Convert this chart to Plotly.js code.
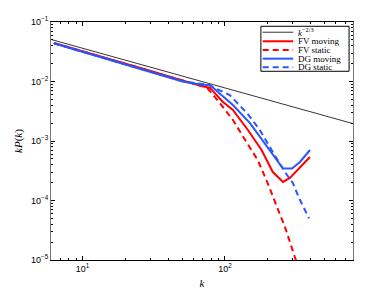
<!DOCTYPE html>
<html>
<head>
<meta charset="utf-8">
<script src="https://cdn.plot.ly/plotly-3.0.1.min.js"></script>
<style>html,body{margin:0;padding:0;background:#fff;}#chart{width:390px;height:293px;}</style>
</head>
<body>
<div id="chart"></div>
<script>
// Reference line k^(-2/3) (two end points of a straight line on log-log axes)
var kRef = [6, 800];
var pRef = [0.0509, 0.00195];

// FV moving
var kFVmoving = [6.28, 8.0, 10.0, 12.6, 15.7, 18.8, 22.0, 25.1, 31.4, 37.7, 44.0, 50.3, 56.5, 62.8, 69.1, 78.5, 96.6, 113.8, 145, 181, 217, 256, 286, 396];
var pFVmoving = [0.0445, 0.0378, 0.0324, 0.0277, 0.0237, 0.0210, 0.0188, 0.0171, 0.0146, 0.0128, 0.0114, 0.0104, 0.0096, 0.0089, 0.0084, 0.0078, 0.00457, 0.00332, 0.00153, 0.000706, 0.000301, 0.000205, 0.000239, 0.000538];

// FV static
var kFVstatic = [6.28, 8.0, 10.0, 12.6, 15.7, 18.8, 22.0, 25.1, 31.4, 37.7, 44.0, 50.3, 56.5, 62.8, 69.1, 74.7, 92, 114, 143, 170, 198, 233, 264, 310, 340];
var pFVstatic = [0.0445, 0.0376, 0.0322, 0.0275, 0.0236, 0.0208, 0.0186, 0.0170, 0.0145, 0.0127, 0.0113, 0.0103, 0.0095, 0.0088, 0.0083, 0.0079, 0.00436, 0.00225, 0.000925, 0.00048, 0.000205, 0.000078, 0.000036, 0.0000112, 0.000006];

// DG moving
var kDGmoving = [6.28, 8.0, 10.0, 12.6, 15.7, 18.8, 22.0, 25.1, 31.4, 37.7, 44.0, 50.3, 56.5, 62.8, 69.1, 78.5, 96.6, 113.8, 150, 185, 225, 256, 296, 337, 396];
var pDGmoving = [0.0440, 0.0370, 0.0318, 0.0268, 0.0231, 0.0202, 0.0181, 0.0164, 0.0140, 0.0122, 0.0110, 0.0100, 0.0095, 0.0091, 0.0088, 0.00873, 0.00556, 0.00403, 0.0020, 0.00100, 0.00052, 0.000345, 0.000345, 0.000444, 0.000706];

// DG static
var kDGstatic = [6.28, 8.0, 10.0, 12.6, 15.7, 18.8, 22.0, 25.1, 31.4, 37.7, 44.0, 50.3, 56.5, 62.8, 69.1, 74.7, 108, 143, 176, 217, 264, 300, 337, 390];
var pDGstatic = [0.0438, 0.0368, 0.0316, 0.0270, 0.0230, 0.0204, 0.0180, 0.0165, 0.0142, 0.0124, 0.0112, 0.0102, 0.0097, 0.0093, 0.0091, 0.0090, 0.00593, 0.00295, 0.00153, 0.000653, 0.000301, 0.000197, 0.000102, 0.000050];

var legendLabels = ['<i>k</i><sup>\u22122/3</sup>', 'FV moving', 'FV static', 'DG moving', 'DG static'];
var xTickVals = [10, 100];
var xTickText = ['10<sup>1</sup>', '10<sup>2</sup>'];
var yTickVals = [1e-5, 1e-4, 1e-3, 1e-2, 1e-1];
var yTickText = ['10<sup>\u22125</sup>', '10<sup>\u22124</sup>', '10<sup>\u22123</sup>', '10<sup>\u22122</sup>', '10<sup>\u22121</sup>'];

var RED = '#ff0000', BLUE = '#2a55ff';
var styles = [
  {color: '#000', width: 0.8, dash: 'solid'},
  {color: RED, width: 2, dash: 'solid'},
  {color: RED, width: 2, dash: '6px,4px'},
  {color: BLUE, width: 2, dash: 'solid'},
  {color: BLUE, width: 2, dash: '6px,4px'}
];

var traces = [
  {x: kRef, y: pRef, mode: 'lines', line: styles[0], name: legendLabels[0]},
  {x: kFVmoving, y: pFVmoving, mode: 'lines', line: styles[1], name: legendLabels[1]},
  {x: kFVstatic, y: pFVstatic, mode: 'lines', line: styles[2], name: legendLabels[2]},
  {x: kDGmoving, y: pDGmoving, mode: 'lines', line: styles[3], name: legendLabels[3]},
  {x: kDGstatic, y: pDGstatic, mode: 'lines', line: styles[4], name: legendLabels[4]}
];

// manual legend
var shapes = [{type: 'rect', xref: 'paper', yref: 'paper', x0: 0.695, x1: 0.987, y0: 0.793, y1: 0.982,
  line: {color: '#000', width: 1}, fillcolor: '#fff', layer: 'above'}];
var annotations = [];
var rowY = [0.957, 0.919, 0.882, 0.846, 0.810];
for (var i = 0; i < legendLabels.length; i++) {
  shapes.push({type: 'line', xref: 'paper', yref: 'paper', x0: 0.701, x1: 0.802, y0: rowY[i], y1: rowY[i],
    line: {color: styles[i].color, width: styles[i].width, dash: styles[i].dash}, layer: 'above'});
  annotations.push({xref: 'paper', yref: 'paper', x: 0.812, y: rowY[i], xanchor: 'left', yanchor: 'middle',
    text: legendLabels[i], showarrow: false, font: {family: 'Liberation Serif, serif', size: 9, color: '#000'}});
}

var layout = {
  width: 390, height: 293,
  margin: {l: 51, r: 37, t: 22, b: 33},
  paper_bgcolor: '#fff', plot_bgcolor: '#fff',
  showlegend: false,
  font: {family: 'Liberation Sans, Arial, sans-serif', size: 9, color: '#000'},
  xaxis: {
    type: 'log', range: [Math.log10(6), 2.9],
    tickvals: xTickVals, ticktext: xTickText,
    ticks: 'inside', ticklen: 4, tickcolor: '#000',
    minor: {ticks: 'inside', ticklen: 2, dtick: 'D1', tickcolor: '#000', showgrid: false},
    showgrid: false, zeroline: false,
    showline: true, linecolor: '#000', linewidth: 1, mirror: 'ticks',
    title: {text: '<i>k</i>', font: {family: 'Liberation Serif, serif', size: 11}, standoff: 6}
  },
  yaxis: {
    type: 'log', range: [-5, -1],
    tickvals: yTickVals, ticktext: yTickText,
    ticks: 'inside', ticklen: 4, tickcolor: '#000',
    minor: {ticks: 'inside', ticklen: 2, dtick: 'D1', tickcolor: '#000', showgrid: false},
    showgrid: false, zeroline: false,
    showline: true, linecolor: '#777', linewidth: 1, mirror: 'ticks',
    title: {text: '<i>kP</i>(<i>k</i>)', font: {family: 'Liberation Serif, serif', size: 11}, standoff: 6}
  },
  shapes: shapes,
  annotations: annotations
};

Plotly.newPlot('chart', traces, layout, {staticPlot: true, displayModeBar: false});
</script>
</body>
</html>
